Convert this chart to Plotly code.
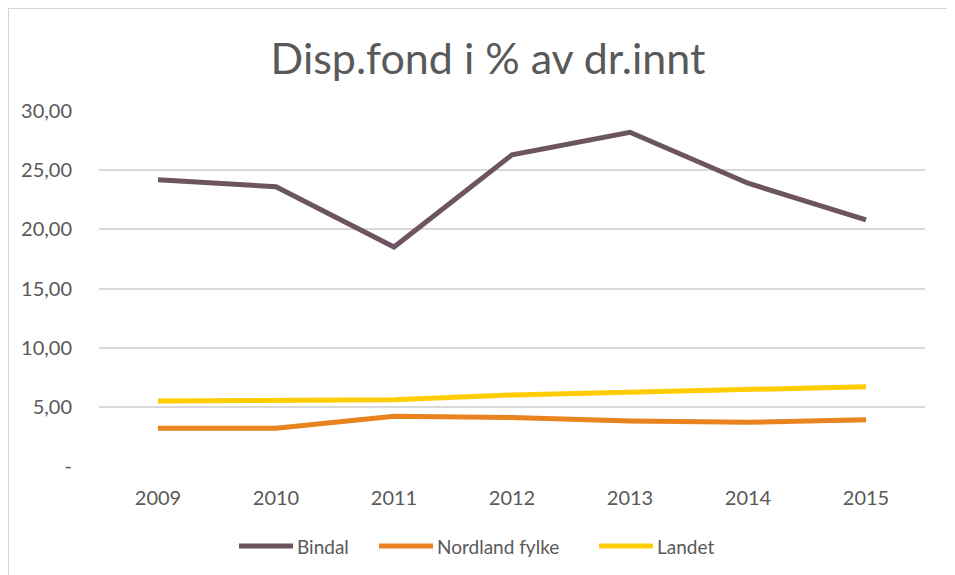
import plotly.graph_objects as go

years = ["2009", "2010", "2011", "2012", "2013", "2014", "2015"]
bindal = [24.2, 23.6, 18.5, 26.3, 28.2, 23.9, 20.8]
nordland = [3.2, 3.2, 4.2, 4.1, 3.8, 3.7, 3.9]
landet = [5.5, 5.5, 5.6, 6.0, 6.2, 6.4, 6.7]
series_names = ["Bindal", "Nordland fylke", "Landet"]
series_colors = ["#6c5461", "#e88320", "#ffcc00"]
ytick_vals = [0, 5, 10, 15, 20, 25, 30]
ytick_text = ["-", "5,00", "10,00", "15,00", "20,00", "25,00", "30,00"]

FONT = "Lato"
TXT = "#595959"

fig = go.Figure()
for name, vals, col in zip(series_names, [bindal, nordland, landet], series_colors):
    fig.add_trace(go.Scatter(x=years, y=vals, name=name, mode="lines",
                             line=dict(color=col, width=5), showlegend=False))

# page body has an 8px margin, so the figure is laid out 8px smaller
W, H = 947, 567
L, R, T, B = 91, 30, 103, 109
pw, ph = W - L - R, H - T - B


def px(fx):
    return (fx - L) / pw


def py(fy):
    return (H - B - fy) / ph


shapes = [
    dict(type="line", xref="paper", yref="paper",
         x0=px(0), x1=px(W), y0=py(0), y1=py(0),
         line=dict(color="#d4d4d4", width=2)),
    dict(type="line", xref="paper", yref="paper",
         x0=px(0), x1=px(0), y0=py(H), y1=py(0),
         line=dict(color="#d4d4d4", width=2)),
]
annotations = []
# legend entries (line sample + label), layout positions only
leg_y = 538
leg_x = [231, 371, 591]
for name, col, x0 in zip(series_names, series_colors, leg_x):
    shapes.append(dict(type="line", xref="paper", yref="paper",
                       x0=px(x0), x1=px(x0 + 54), y0=py(leg_y), y1=py(leg_y),
                       line=dict(color=col, width=5)))
    annotations.append(dict(text=name, xref="paper", yref="paper",
                            x=px(x0 + 56), y=py(leg_y), xanchor="left",
                            yanchor="middle", showarrow=False,
                            font=dict(size=19, color=TXT, family=FONT)))

fig.update_layout(
    width=W, height=H,
    margin=dict(l=L, r=R, t=T, b=B),
    paper_bgcolor="white",
    plot_bgcolor="white",
    font=dict(family=FONT, color=TXT, size=20),
    showlegend=False,
    title=dict(text="Disp.fond i % av dr.innt", xref="container", x=480 / W,
               xanchor="center", y=1 - 51 / H, yanchor="middle",
               font=dict(size=43, color=TXT, family=FONT)),
    xaxis=dict(type="category", range=[-0.5, 6.5], showgrid=False, showline=False,
               ticks="", ticklabelstandoff=18, tickfont=dict(size=20, color=TXT)),
    yaxis=dict(range=[0, 30], tickvals=ytick_vals, ticktext=ytick_text,
               gridcolor="#d9d9d9", gridwidth=1.5, zeroline=False, showline=False,
               ticklabelstandoff=26, tickfont=dict(size=20, color=TXT)),
    shapes=shapes,
    annotations=annotations,
)

fig.write_html("out.html")
